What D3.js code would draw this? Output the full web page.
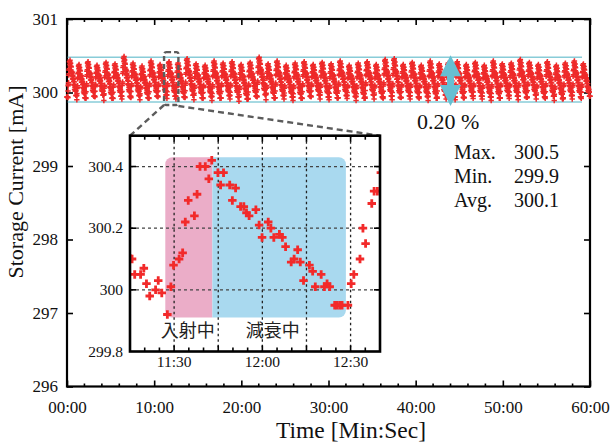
<!DOCTYPE html>
<html>
<head>
<meta charset="utf-8">
<script src="https://cdn.jsdelivr.net/npm/d3@7"></script>
<style>
  body { margin: 0; background: #fff; }
  svg { display: block; }
  text { font-family: "Liberation Serif", "Times New Roman", serif; fill: #111; }
</style>
</head>
<body>
<svg id="chart" width="610" height="443"></svg>
<script>
// ---------- data ----------
// main axis (seconds from start)
const xTickValues = [0, 600, 1200, 1800, 2400, 3000, 3600];
const xTickLabels = ["00:00", "10:00", "20:00", "30:00", "40:00", "50:00", "60:00"];
const yTickValues = [296, 297, 298, 299, 300, 301];

// close-up readings, 11:14 – 12:40 (seconds, mA)
const insetTimes = [
  674.3, 675.7, 676.6, 678.6, 679.7, 680.6, 681.7, 683.7, 684.6, 685.8,
  687.7, 688.9, 689.8, 691.7, 692.9, 693.8, 694.8, 696.9, 697.8, 698.8,
  700.6, 701.8, 702.8, 704.9, 705.8, 706.8, 708.9, 709.8, 710.9, 712.6,
  713.7, 714.6, 715.5, 717.8, 718.9, 719.9, 722.0, 722.9, 723.9, 725.8,
  726.8, 727.9, 729.8, 730.8, 732.0, 732.9, 734.0, 736.0, 737.1, 738.0,
  740.0, 741.1, 742.0, 742.9, 744.6, 745.4, 746.3, 747.1, 749.1, 750.2,
  751.1, 753.2, 754.2, 755.1, 757.2, 758.0, 759.1, 760.3
];
const insetValues = [
  300.11, 300.10, 300.05, 300.05, 300.07, 300.02, 299.98, 300.00, 300.03, 299.99,
  299.92, 300.01, 300.08, 300.10, 300.12, 300.22, 300.29, 300.24, 300.31, 300.40,
  300.40, 300.36, 300.42, 300.38, 300.34, 300.38, 300.34, 300.29, 300.33, 300.27,
  300.27, 300.25, 300.24, 300.26, 300.21, 300.17, 300.22, 300.20, 300.17, 300.18,
  300.17, 300.14, 300.09, 300.10, 300.13, 300.09, 300.03, 300.08, 300.06, 300.01,
  300.05, 300.01, 300.02, 300.01, 299.95, 299.95, 299.95, 299.95, 299.95, 300.02,
  300.05, 300.10, 300.20, 300.15, 300.28, 300.32, 300.32, 300.38
];

// top-up cycles over the hour: one cycle every 62 s, the one at 11:27.7 is the close-up
const cyclePeriod = 62;
const cycleAnchor = 687.7;
const cyclePeaks = [
  300.41, 300.44, 300.38, 300.42, 300.37, 300.41, 300.39, 300.49, 300.40, 300.36,
  300.43, 300.38, 300.42, 300.40, 300.46, 300.39, 300.37, 300.43, 300.40, 300.42,
  300.38, 300.41, 300.48, 300.39, 300.43, 300.37, 300.40, 300.42, 300.38, 300.41,
  300.39, 300.43, 300.37, 300.40, 300.42, 300.38, 300.45, 300.46, 300.38, 300.41,
  300.37, 300.43, 300.39, 300.40, 300.42, 300.38, 300.41, 300.37, 300.43, 300.39,
  300.40, 300.45, 300.41, 300.38, 300.42, 300.37, 300.40, 300.43, 300.39
];
const cycleTroughs = [
  299.91, 299.93, 299.90, 299.92, 299.94, 299.89, 299.92, 299.91, 299.93, 299.90,
  299.92, 299.94, 299.92, 299.91, 299.93, 299.90, 299.92, 299.89, 299.93, 299.91,
  299.88, 299.92, 299.94, 299.90, 299.93, 299.91, 299.89, 299.92, 299.94, 299.91,
  299.90, 299.93, 299.92, 299.89, 299.94, 299.91, 299.92, 299.90, 299.93, 299.91,
  299.92, 299.89, 299.94, 299.91, 299.90, 299.93, 299.92, 299.91, 299.89, 299.93,
  299.92, 299.90, 299.94, 299.91, 299.92, 299.89, 299.93, 299.91, 299.92
];

const bandLimits = [300.48, 299.87];
const spreadLabel = "0.20 %";
const statNames = ["Max.", "Min.", "Avg."];
const statValues = ["300.5", "299.9", "300.1"];

// close-up axis and phases
const insetDomain = [675, 760];
const insetYDomain = [299.8, 300.5];
const insetYTicks = [299.8, 300.0, 300.2, 300.4];
const insetYLabels = ["299.8", "300", "300.2", "300.4"];
const insetGridX = [690, 705, 720, 735, 750];
const insetGridY = [300.0, 300.2, 300.4];
const insetXLabelValues = [690, 720, 750];
const insetXLabels = ["11:30", "12:00", "12:30"];
const phaseLabels = ["入射中", "減衰中"];
const phaseBounds = [687, 703, 748.4];
const phaseRange = [299.91, 300.43];

// ---------- layout ----------
const svg = d3.select("#chart");
const M = { l: 67, r: 590, t: 19, b: 386.5 };
const x = d3.scaleLinear().domain([0, 3600]).range([M.l, M.r]);
const y = d3.scaleLinear().domain([296, 301]).range([M.b, M.t]);

const RED = "#ee2a2a";
const CYAN_LINE = "#88ccd8";
const CYAN_ARROW = "#66bfd2";

// main series: every cycle follows the measured close-up profile between its own trough and peak
const tplLo = 299.92, tplHi = 300.42;
const template = insetTimes
  .map((t, i) => ({ dt: t - cycleAnchor, n: (insetValues[i] - tplLo) / (tplHi - tplLo) }))
  .filter(d => d.dt >= 0 && d.dt <= 61.5);
const firstStart = cycleAnchor - Math.ceil(cycleAnchor / cyclePeriod) * cyclePeriod;
const mainSeries = [];
cyclePeaks.forEach((pk, j) => {
  const start = firstStart + j * cyclePeriod;
  const lo = cycleTroughs[j];
  template.forEach(d => {
    const t = start + d.dt;
    if (t >= 0 && t <= 3600) mainSeries.push({ t, v: lo + d.n * (pk - lo) });
  });
});

// ---------- main frame and axes ----------
const fontAxis = "17px";
function styleAxis(g) {
  g.attr("font-family", null).attr("font-size", null);
  g.select(".domain").remove();
  g.selectAll(".tick line").attr("stroke", "#000").attr("stroke-width", 1.6);
  g.selectAll(".tick text").style("font-size", fontAxis).attr("fill", "#111");
}

svg.append("g").attr("transform", `translate(0,${M.b})`)
  .call(d3.axisBottom(x).tickValues(xTickValues).tickFormat((d, i) => xTickLabels[i])
    .tickSizeInner(-6).tickSizeOuter(0).tickPadding(14))
  .call(styleAxis);
svg.append("g").attr("transform", `translate(0,${M.t})`)
  .call(d3.axisTop(x).tickValues(xTickValues).tickFormat("").tickSizeInner(-6).tickSizeOuter(0))
  .call(styleAxis);
svg.append("g").attr("transform", `translate(${M.l},0)`)
  .call(d3.axisLeft(y).tickValues(yTickValues).tickFormat(d3.format("d"))
    .tickSizeInner(-6).tickSizeOuter(0).tickPadding(9))
  .call(styleAxis);
svg.append("g").attr("transform", `translate(${M.r},0)`)
  .call(d3.axisRight(y).tickValues(yTickValues).tickFormat("").tickSizeInner(-6).tickSizeOuter(0))
  .call(styleAxis);

// minor ticks every 2 minutes
const minorX = d3.range(0, 3601, 120).filter(v => v % 600 !== 0);
[[M.b, -3], [M.t, 3]].forEach(([yy, len]) => {
  svg.append("g").selectAll("line").data(minorX).join("line")
    .attr("x1", d => x(d)).attr("x2", d => x(d))
    .attr("y1", yy).attr("y2", yy + len)
    .attr("stroke", "#000").attr("stroke-width", 1.6);
});

svg.append("rect")
  .attr("x", M.l).attr("y", M.t).attr("width", M.r - M.l).attr("height", M.b - M.t)
  .attr("fill", "none").attr("stroke", "#000").attr("stroke-width", 2.2);

// axis titles
svg.append("text").attr("x", 351).attr("y", 438)
  .attr("text-anchor", "middle").style("font-size", "23.5px").text("Time [Min:Sec]");
svg.append("text").attr("transform", `translate(23,182) rotate(-90)`)
  .attr("text-anchor", "middle").style("font-size", "22px").text("Storage Current [mA]");

// ---------- band limits ----------
svg.append("g").selectAll("line").data(bandLimits).join("line")
  .attr("x1", x(5)).attr("x2", x(3545))
  .attr("y1", d => y(d)).attr("y2", d => y(d))
  .attr("stroke", CYAN_LINE).attr("stroke-width", 1.6);

// ---------- main series ----------
svg.append("g").selectAll("path").data(mainSeries).join("path")
  .attr("d", "M-2.7,0H2.7M0,-2.7V2.7")
  .attr("transform", d => `translate(${x(d.t).toFixed(2)},${y(d.v).toFixed(2)})`)
  .attr("stroke", RED).attr("stroke-width", 1.5).attr("fill", "none");

// ---------- spread arrow ----------
{
  const cx = x(2640);
  const yTop = y(bandLimits[0]) - 2, yBot = y(bandLimits[1]) + 4;
  const hw = 10.5, hl = 21, sw = 3.5;
  const p = d3.path();
  p.moveTo(cx, yTop);
  p.lineTo(cx + hw, yTop + hl); p.lineTo(cx + sw, yTop + hl);
  p.lineTo(cx + sw, yBot - hl); p.lineTo(cx + hw, yBot - hl);
  p.lineTo(cx, yBot);
  p.lineTo(cx - hw, yBot - hl); p.lineTo(cx - sw, yBot - hl);
  p.lineTo(cx - sw, yTop + hl); p.lineTo(cx - hw, yTop + hl);
  p.closePath();
  svg.append("path").attr("d", p.toString()).attr("fill", CYAN_ARROW);
}
svg.append("text").attr("x", 417).attr("y", 128.5).style("font-size", "22px").text(spreadLabel);

// statistics
statNames.forEach((name, i) => {
  const by = 158.5 + i * 24;
  svg.append("text").attr("x", 454).attr("y", by).style("font-size", "20px").text(name);
  svg.append("text").attr("x", 514).attr("y", by).style("font-size", "20px").text(statValues[i]);
});

// ---------- close-up ----------
const I = { l: 130, r: 380, t: 135.7, b: 351.5 };
const xi = d3.scaleLinear().domain(insetDomain).range([I.l, I.r]);
const yi = d3.scaleLinear().domain(insetYDomain).range([I.b, I.t]);

// zoom window and connectors
const DASH = "#5c5c5c";
{
  const bx0 = x(insetDomain[0]) - 1, bx1 = x(insetDomain[1]) + 1;
  const by0 = y(300.55), by1 = y(299.83);
  svg.append("rect").attr("x", bx0).attr("y", by0).attr("width", bx1 - bx0).attr("height", by1 - by0)
    .attr("rx", 2).attr("fill", "none").attr("stroke", DASH).attr("stroke-width", 2.4)
    .attr("stroke-dasharray", "5,3");
  svg.append("line").attr("x1", bx0).attr("y1", by1).attr("x2", I.l).attr("y2", I.t)
    .attr("stroke", DASH).attr("stroke-width", 2.4).attr("stroke-dasharray", "6,4");
  svg.append("line").attr("x1", bx1).attr("y1", by1 + 1).attr("x2", I.r).attr("y2", I.t)
    .attr("stroke", DASH).attr("stroke-width", 2.4).attr("stroke-dasharray", "6,4");
}

const inset = svg.append("g");
inset.append("rect").attr("x", I.l).attr("y", I.t).attr("width", I.r - I.l).attr("height", I.b - I.t)
  .attr("fill", "#fff");

// phase shading with rounded outer corners
function roundedBox(x0, x1, y0, y1, rL, rR) {
  const p = d3.path();
  p.moveTo(x0 + rL, y0);
  p.lineTo(x1 - rR, y0);
  if (rR) p.arcTo(x1, y0, x1, y0 + rR, rR);
  p.lineTo(x1, y1 - rR);
  if (rR) p.arcTo(x1, y1, x1 - rR, y1, rR);
  p.lineTo(x0 + rL, y1);
  if (rL) p.arcTo(x0, y1, x0, y1 - rL, rL);
  p.lineTo(x0, y0 + rL);
  if (rL) p.arcTo(x0, y0, x0 + rL, y0, rL);
  p.closePath();
  return p.toString();
}
const py0 = yi(phaseRange[1]), py1 = yi(phaseRange[0]);
inset.append("path")
  .attr("d", roundedBox(xi(phaseBounds[0]), xi(phaseBounds[1]), py0, py1, 7, 0))
  .attr("fill", "#ebadc8");
inset.append("path")
  .attr("d", roundedBox(xi(phaseBounds[1]), xi(phaseBounds[2]), py0, py1, 0, 7))
  .attr("fill", "#a9d9ef");

// grid
inset.append("g").selectAll("line").data(insetGridX).join("line")
  .attr("x1", d => xi(d)).attr("x2", d => xi(d)).attr("y1", I.t).attr("y2", I.b)
  .attr("stroke", "#222").attr("stroke-width", 1.3).attr("stroke-dasharray", "2.5,3");
inset.append("g").selectAll("line").data(insetGridY).join("line")
  .attr("x1", I.l).attr("x2", I.r).attr("y1", d => yi(d)).attr("y2", d => yi(d))
  .attr("stroke", "#444").attr("stroke-width", 1.3).attr("stroke-dasharray", "3,3");

// phase labels
inset.append("text").attr("x", (xi(phaseBounds[0]) + xi(phaseBounds[1])) / 2 - 1).attr("y", 336.5)
  .attr("text-anchor", "middle")
  .style("font-family", "'Noto Sans CJK JP', sans-serif").style("font-size", "18px").style("fill", "#222")
  .text(phaseLabels[0]);
inset.append("text").attr("x", xi(723.5)).attr("y", 336.5)
  .attr("text-anchor", "middle")
  .style("font-family", "'Noto Sans CJK JP', sans-serif").style("font-size", "18px").style("fill", "#222")
  .text(phaseLabels[1]);

// close-up points
svg.append("clipPath").attr("id", "insetClip")
  .append("rect").attr("x", I.l).attr("y", I.t).attr("width", I.r - I.l).attr("height", I.b - I.t);
inset.append("g").attr("clip-path", "url(#insetClip)")
  .selectAll("path").data(insetTimes).join("path")
  .attr("d", d3.symbol(d3.symbolCross, 40))
  .attr("transform", (t, i) => `translate(${xi(t).toFixed(2)},${yi(insetValues[i]).toFixed(2)})`)
  .attr("fill", "#f22a2a");

// close-up ticks
const insetMinor = d3.range(675, 761, 5);
[[I.b, -1], [I.t, 1]].forEach(([yy, dir]) => {
  inset.append("g").selectAll("line").data(insetMinor).join("line")
    .attr("x1", d => xi(d)).attr("x2", d => xi(d))
    .attr("y1", yy).attr("y2", d => yy + dir * ((d - 675) % 15 === 0 ? 6 : 4))
    .attr("stroke", "#000").attr("stroke-width", 1.6);
});
[[I.l, 1], [I.r, -1]].forEach(([xx, dir]) => {
  inset.append("g").selectAll("line").data(insetGridY).join("line")
    .attr("x1", xx).attr("x2", xx + dir * 6)
    .attr("y1", d => yi(d)).attr("y2", d => yi(d))
    .attr("stroke", "#000").attr("stroke-width", 1.6);
});
inset.append("rect").attr("x", I.l).attr("y", I.t).attr("width", I.r - I.l).attr("height", I.b - I.t)
  .attr("fill", "none").attr("stroke", "#000").attr("stroke-width", 2.6);

// close-up labels
inset.append("g").selectAll("text").data(insetYTicks).join("text")
  .attr("x", I.l - 7).attr("y", d => yi(d)).attr("dy", "0.34em")
  .attr("text-anchor", "end").style("font-size", "15.5px")
  .text((d, i) => insetYLabels[i]);
inset.append("g").selectAll("text").data(insetXLabelValues).join("text")
  .attr("x", d => xi(d)).attr("y", 367)
  .attr("text-anchor", "middle").style("font-size", "15.5px")
  .text((d, i) => insetXLabels[i]);
</script>
</body>
</html>
